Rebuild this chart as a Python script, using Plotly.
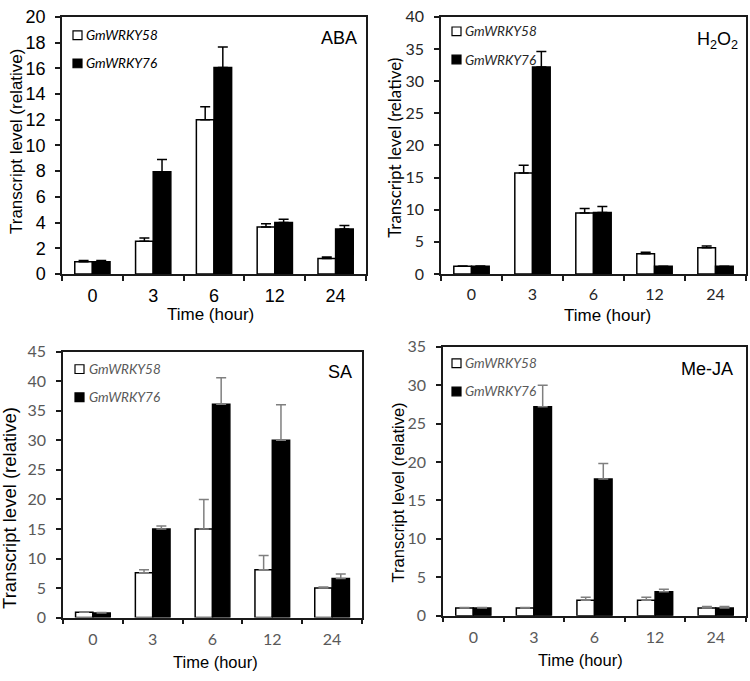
import plotly.graph_objects as go

# ---------------- data ----------------
times = ["0", "3", "6", "12", "24"]

aba_58 = [0.95, 2.55, 12.0, 3.65, 1.2]
aba_58_err = [0.1, 0.25, 1.0, 0.25, 0.12]
aba_76 = [0.95, 7.95, 16.05, 4.0, 3.5]
aba_76_err = [0.1, 0.95, 1.6, 0.25, 0.28]

h2o2_58 = [1.2, 15.7, 9.5, 3.15, 4.1]
h2o2_58_err = [0.05, 1.2, 0.7, 0.25, 0.25]
h2o2_76 = [1.2, 32.2, 9.55, 1.2, 1.2]
h2o2_76_err = [0.05, 2.4, 0.95, 0.0, 0.0]

sa_58 = [0.9, 7.6, 15.0, 8.1, 5.0]
sa_58_err = [0.05, 0.5, 5.0, 2.4, 0.2]
sa_76 = [0.8, 15.0, 36.1, 30.0, 6.6]
sa_76_err = [0.05, 0.5, 4.5, 6.0, 0.8]

meja_58 = [1.0, 1.0, 2.0, 2.0, 1.0]
meja_58_err = [0.05, 0.05, 0.4, 0.4, 0.2]
meja_76 = [1.0, 27.2, 17.8, 3.1, 1.0]
meja_76_err = [0.05, 2.8, 2.0, 0.35, 0.2]

gene_names = ["GmWRKY58", "GmWRKY76"]
treatments = ["ABA", "H<sub>2</sub>O<sub>2</sub>", "SA", "Me-JA"]
y_max = [20, 40, 45, 35]
y_step = [2, 5, 5, 5]
x_title = "Time (hour)"
y_title = "Transcript level (relative)"

# ---------------- layout helpers ----------------
W, H = 750, 681
def fx(x):
    return x / W
def fy(y):
    return 1 - y / H

ARIAL = "Liberation Sans, Arial, sans-serif"
CALIBRI = "Lato, Carlito, Calibri, sans-serif"

panels = [
    dict(v58=aba_58, e58=aba_58_err, v76=aba_76, e76=aba_76_err,
         px=(62, 366), py=(7, 272), tickfont=dict(family=ARIAL, size=18, color="black"),
         errcol="black", ytfont=dict(family=ARIAL, size=17, color="black"),
         ytpos=(16, 136), xtpos=(210, 314), xtsize=17,
         lab_pos=(359, 29), leg_sq=73, leg_y=(26, 55), leg_text=84, legcol="black",
         ystand=6, xstand=5),
    dict(v58=h2o2_58, e58=h2o2_58_err, v76=h2o2_76, e76=h2o2_76_err,
         px=(441, 746), py=(7, 272), tickfont=dict(family=CALIBRI, size=16, color="#262626"),
         errcol="black", ytfont=dict(family=CALIBRI, size=17, color="black"),
         ytpos=(395, 142), xtpos=(607, 315), xtsize=17,
         lab_pos=(740, 31), leg_sq=452, leg_y=(22, 51), leg_text=463, legcol="#262626",
         ystand=7, xstand=5),
    dict(v58=sa_58, e58=sa_58_err, v76=sa_76, e76=sa_76_err,
         px=(63, 362), py=(352, 626), tickfont=dict(family=CALIBRI, size=16, color="#595959"),
         errcol="#7f7f7f", ytfont=dict(family=ARIAL, size=18.5, color="black"),
         ytpos=(10, 513), xtpos=(215, 672), xtsize=16.5,
         lab_pos=(354, 373), leg_sq=75, leg_y=(370, 399), leg_text=87, legcol="#595959",
         ystand=7, xstand=6),
    dict(v58=meja_58, e58=meja_58_err, v76=meja_76, e76=meja_76_err,
         px=(443, 746), py=(347, 624), tickfont=dict(family=CALIBRI, size=16, color="#595959"),
         errcol="#7f7f7f", ytfont=dict(family=ARIAL, size=16.5, color="black"),
         ytpos=(398, 497), xtpos=(580, 670), xtsize=16.5,
         lab_pos=(735, 370), leg_sq=452, leg_y=(364, 393), leg_text=463, legcol="#595959",
         ystand=7, xstand=6),
]

fig = go.Figure()
annotations = []
shapes = []

for i, p in enumerate(panels):
    n = "" if i == 0 else str(i + 1)
    xa, ya = "x" + n, "y" + n
    for k, (vals, errs, fill) in enumerate([(p["v58"], p["e58"], "white"),
                                             (p["v76"], p["e76"], "black")]):
        fig.add_trace(go.Bar(
            x=times, y=vals, name=gene_names[k], xaxis=xa, yaxis=ya,
            marker=dict(color=fill, line=dict(color="black", width=1.5)),
            error_y=dict(type="data", array=errs, arrayminus=[0] * len(errs),
                         symmetric=False, color=p["errcol"], thickness=1.5, width=5),
            showlegend=False,
        ))
    axis_common = dict(showline=True, linecolor="#1a1a1a", linewidth=1.5, mirror=True,
                       showgrid=False, zeroline=False, ticks="outside", ticklen=5,
                       tickwidth=1.5, tickcolor="#1a1a1a", tickfont=p["tickfont"])
    fig.update_layout(**{
        "xaxis" + n: dict(domain=[fx(p["px"][0]), fx(p["px"][1])], anchor=ya,
                          type="category", tickson="boundaries",
                          ticklabelstandoff=p["xstand"], **axis_common),
        "yaxis" + n: dict(domain=[fy(p["py"][1]), fy(p["py"][0])], anchor=xa,
                          range=[0, y_max[i]], dtick=y_step[i], tick0=0,
                          ticklabelstandoff=p["ystand"], **axis_common),
    })
    # axis titles
    annotations.append(dict(text=y_title, xref="paper", yref="paper",
                            x=fx(p["ytpos"][0]), y=fy(p["ytpos"][1]),
                            xanchor="center", yanchor="middle", textangle=-90,
                            showarrow=False, font=p["ytfont"]))
    annotations.append(dict(text=x_title, xref="paper", yref="paper",
                            x=fx(p["xtpos"][0]), y=fy(p["xtpos"][1]),
                            xanchor="center", yanchor="middle", showarrow=False,
                            font=dict(family=ARIAL, size=p["xtsize"], color="black")))
    # treatment label
    annotations.append(dict(text=treatments[i], xref="paper", yref="paper",
                            x=fx(p["lab_pos"][0]), y=fy(p["lab_pos"][1]),
                            xanchor="right", yanchor="middle", showarrow=False,
                            font=dict(family=ARIAL, size=18, color="black")))
    # legend (manual)
    for k, fill in enumerate(["white", "black"]):
        yc = p["leg_y"][k]
        shapes.append(dict(type="rect", xref="paper", yref="paper",
                           x0=fx(p["leg_sq"]), x1=fx(p["leg_sq"] + 9),
                           y0=fy(yc + 4.5), y1=fy(yc - 4.5),
                           fillcolor=fill, line=dict(color="black", width=1.2)))
        annotations.append(dict(text="<i>%s</i>" % gene_names[k], xref="paper", yref="paper",
                                x=fx(p["leg_text"]), y=fy(yc), xanchor="left", yanchor="middle",
                                showarrow=False,
                                font=dict(family=CALIBRI, size=13.5, color=p["legcol"])))

fig.update_layout(
    width=W, height=H, margin=dict(l=0, r=0, t=0, b=0),
    paper_bgcolor="white", plot_bgcolor="white",
    barmode="group", bargap=0.42, bargroupgap=0,
    annotations=annotations, shapes=shapes,
)

fig.write_html("out.html", config={"displayModeBar": False},
               post_script="document.body.style.margin='0';document.body.style.overflow='hidden';")
